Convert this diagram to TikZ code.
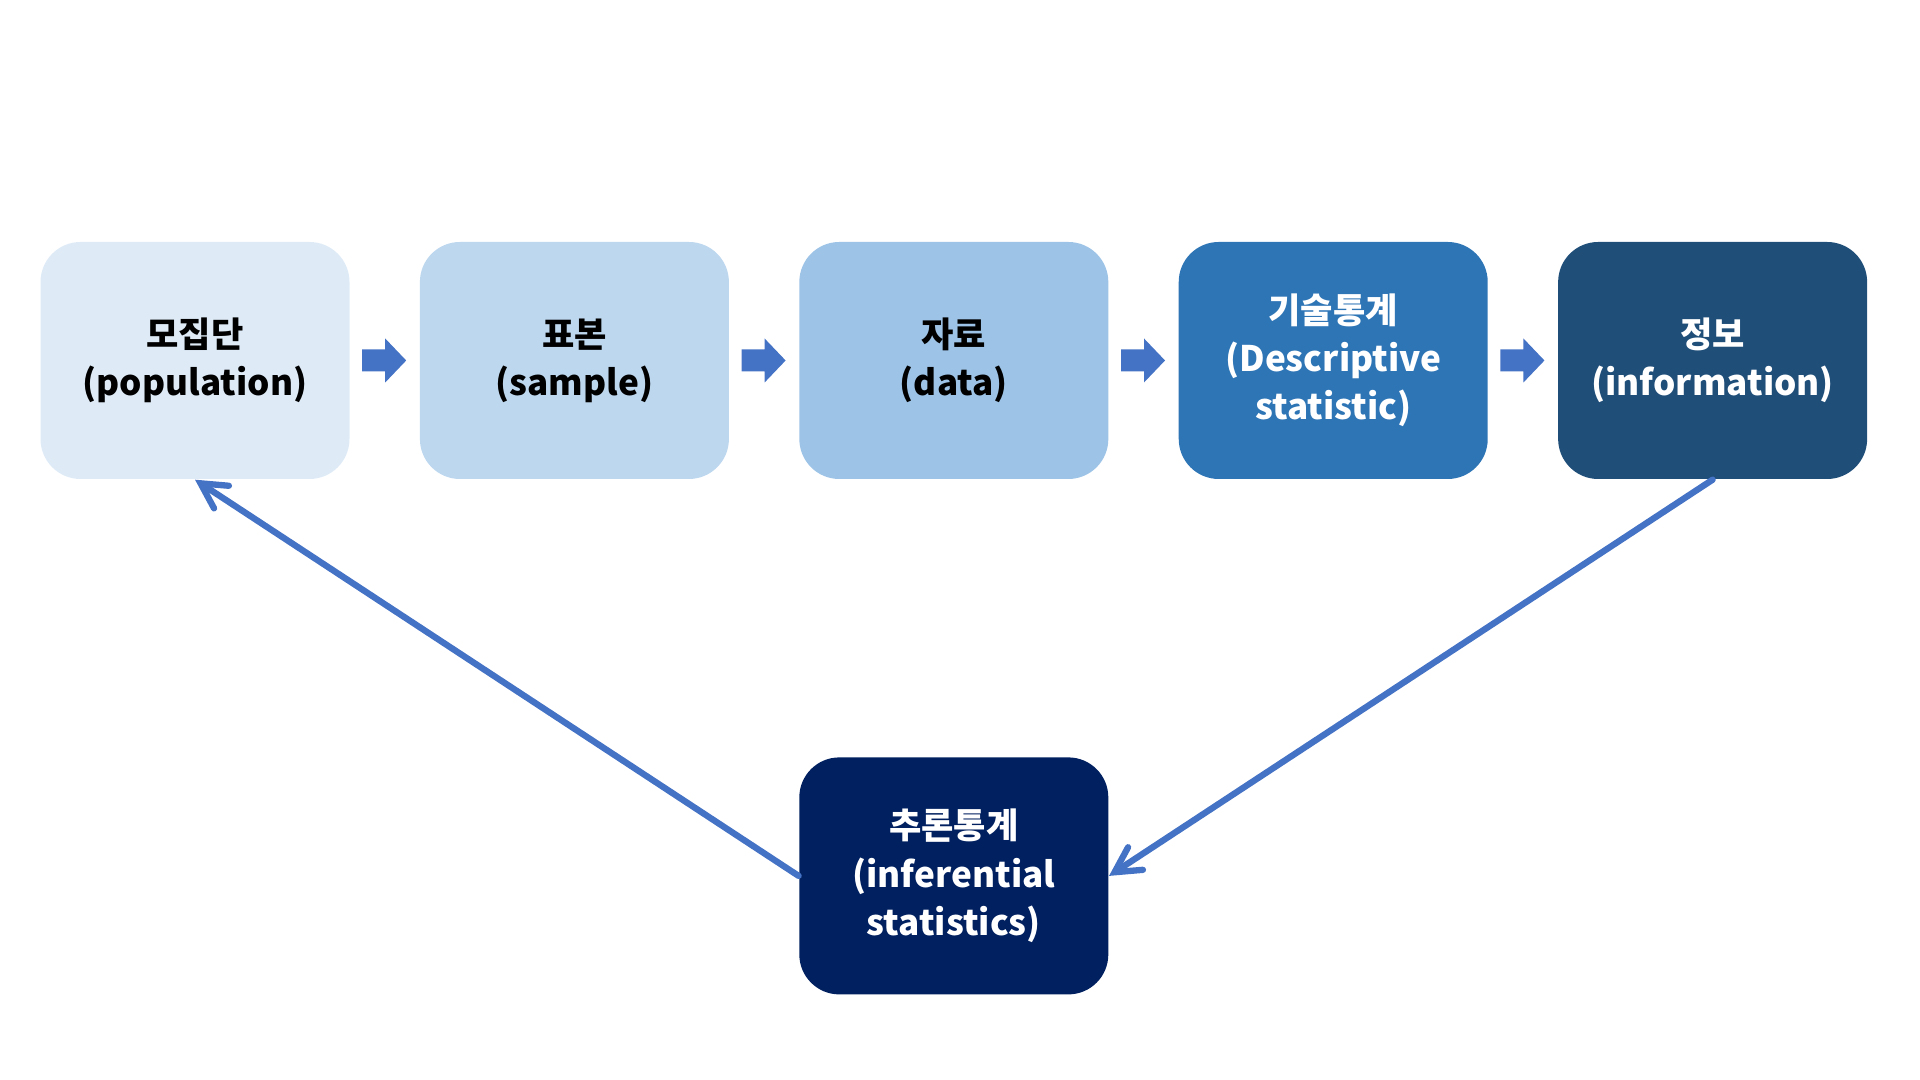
\documentclass[tikz,border=0pt]{standalone}
\usepackage{fontspec}
\setmainfont{Noto Sans CJK KR}
\usetikzlibrary{arrows.meta, positioning, calc}
\definecolor{stage1}{HTML}{DEEBF7}
\definecolor{stage2}{HTML}{BDD7EE}
\definecolor{stage3}{HTML}{9DC3E6}
\definecolor{stage4}{HTML}{2E75B6}
\definecolor{stage5}{HTML}{1F4E79}
\definecolor{stage6}{HTML}{002060}
\definecolor{flowblue}{HTML}{4472C4}

\tikzset{
  stagebox/.style={rounded corners=0.4cm, minimum width=3.09cm, minimum height=2.37cm,
    inner sep=0pt, align=center, font=\bfseries\fontsize{10pt}{13.7pt}\selectfont},
  returnline/.style={flowblue, line width=1.8pt, line cap=round,
    -{Straight Barb[length=2.5mm, width=2.7mm, line cap=round]}}
}

\begin{document}
\begin{tikzpicture}
  \useasboundingbox (0, 0) rectangle (19.2, 10.8);

  % Top row
  \node[stagebox, fill=stage1, text=black] (pop) at (1.95, 7.195) {모집단\\(population)};
  \node[stagebox, fill=stage2, text=black, right=0.69cm of pop] (sam) {표본\\(sample)};
  \node[stagebox, fill=stage3, text=black, right=0.69cm of sam] (dat) {자료\\(data)};
  \node[stagebox, fill=stage4, text=white, right=0.69cm of dat] (des) {기술통계\\(Descriptive\\statistic)};
  \node[stagebox, fill=stage5, text=white, right=0.69cm of des] (info) {정보\\(information)};

  % Bottom box
  \node[stagebox, fill=stage6, text=white, below=2.77cm of dat] (infer) {추론통계\\(inferential\\statistics)};

  % Block arrows between stages
  \foreach \a/\b in {pop/sam, sam/dat, dat/des, des/info}
    \fill[flowblue] ($(\a.east)+(0.12,0.11)$) -- ++(0.23,0) -- ++(0,0.11)
      -- ($(\b.west)+(-0.13,0)$) -- ($(\a.east)+(0.35,-0.22)$) -- ++(0,0.11)
      -- ++(-0.23,0) -- cycle;

  % Return arrows
  \draw[returnline] (info.south) -- (infer.east);
  \draw[returnline] (infer.west) -- (pop.south);
\end{tikzpicture}
\end{document}
